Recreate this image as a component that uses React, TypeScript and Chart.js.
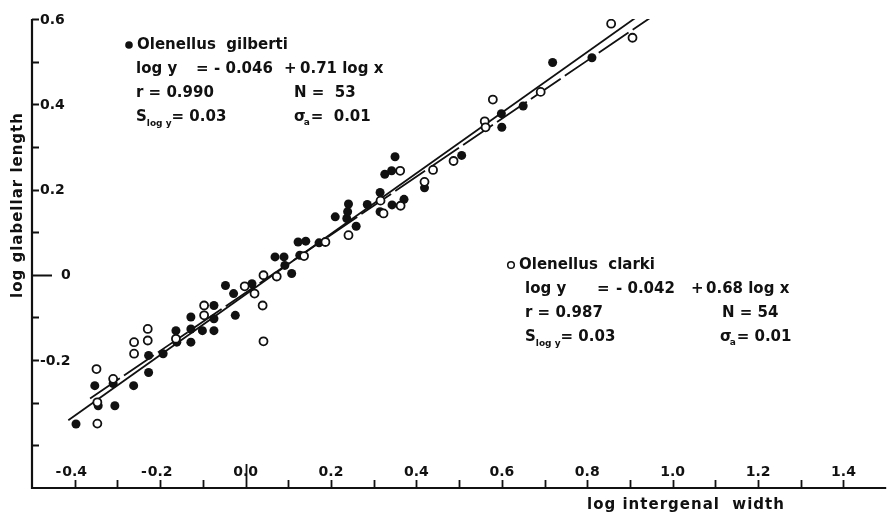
import React, { useEffect, useRef } from "react";
import { Chart, registerables } from "chart.js";

Chart.register(...registerables);

// ---- data ----
const gilbertiX = [
  -0.397, -0.353, -0.31, -0.345, -0.306, -0.262, -0.227, -0.227, -0.193, -0.163,
  -0.161, -0.128, -0.128, -0.128, -0.101, -0.074, -0.074, -0.074, -0.047, -0.028,
  -0.024, 0.015, 0.069, 0.09, 0.092, 0.108, 0.123, 0.141, 0.127, 0.172,
  0.21, 0.237, 0.239, 0.241, 0.259, 0.285, 0.315, 0.326, 0.35, 0.342,
  0.315, 0.343, 0.371, 0.419, 0.506, 0.599, 0.6, 0.65, 0.719, 0.811,
];
const gilbertiY = [
  -0.35, -0.26, -0.255, -0.307, -0.307, -0.26, -0.229, -0.189, -0.185, -0.131,
  -0.158, -0.127, -0.158, -0.099, -0.131, -0.131, -0.103, -0.072, -0.025, -0.044,
  -0.095, -0.021, 0.042, 0.042, 0.022, 0.003, 0.077, 0.079, 0.046, 0.075,
  0.136, 0.132, 0.148, 0.166, 0.114, 0.165, 0.193, 0.236, 0.277, 0.244,
  0.148, 0.164, 0.177, 0.204, 0.28, 0.378, 0.346, 0.396, 0.498, 0.509,
];
const clarkiX = [
  -0.349, -0.347, -0.347, -0.31, -0.261, -0.261, -0.229, -0.229, -0.163, -0.097,
  -0.097, -0.002, 0.021, 0.042, 0.04, 0.042, 0.073, 0.137, 0.187, 0.241,
  0.316, 0.323, 0.363, 0.362, 0.419, 0.439, 0.487, 0.56, 0.562, 0.579,
  0.691, 0.856, 0.906,
];
const clarkiY = [
  -0.221, -0.299, -0.349, -0.244, -0.158, -0.185, -0.127, -0.154, -0.15, -0.072,
  -0.095, -0.027, -0.044, -0.001, -0.072, -0.156, -0.004, 0.044, 0.077, 0.093,
  0.174, 0.144, 0.162, 0.244, 0.218, 0.246, 0.267, 0.36, 0.346, 0.411,
  0.429, 0.589, 0.556,
];
// regression lines, end points as drawn
const gilbertiFitX = [-0.415, 0.926];
const gilbertiFitY = [-0.341, 0.612];
const clarkiFitX = [-0.364, 0.967];
const clarkiFitY = [-0.29, 0.616];

// ---- axes ----
const xRange = [-0.5, 1.5];
const yRange = [-0.5, 0.6];
const xMajorTicks = [-0.4, -0.2, 0, 0.2, 0.4, 0.6, 0.8, 1.0, 1.2, 1.4];
const xMajorLabels = ["-0.4", "-0.2", "0.0", "0.2", "0.4", "0.6", "0.8", "1.0", "1.2", "1.4"];
const xMinorTicks = [-0.3, -0.1, 0.1, 0.3, 0.5, 0.7, 0.9, 1.1, 1.3];
const yMajorTicks = [0.6, 0.4, 0.2, 0, -0.2];
const yMajorLabels = ["0.6", "0.4", "0.2", "0", "-0.2"];
const yMinorTicks = [0.5, 0.3, 0.1, -0.1, -0.3, -0.4];
const xTitle = "log intergenal  width";
const yTitle = "log glabellar length";

// ---- annotation texts ----
const gilbertiName = "Olenellus  gilberti";
const gilbertiEq = ["log y", "=", "- 0.046", "+", "0.71 log x"];
const gilbertiStats = ["r = 0.990", "N =  53"];
const gilbertiErr = ["= 0.03", "=  0.01"];
const clarkiName = "Olenellus  clarki";
const clarkiEq = ["log y", "=", "- 0.042", "+", "0.68 log x"];
const clarkiStats = ["r = 0.987", "N = 54"];
const clarkiErr = ["= 0.03", "= 0.01"];

const FONT_FAMILY = '"DejaVu Sans", "Liberation Sans", sans-serif';
const INK = "#111";

function font(size: number) {
  return `bold ${size}px ${FONT_FAMILY}`;
}

function drawStatsLine(ctx: CanvasRenderingContext2D, x1: number, x2: number, y: number, err: string[]) {
  ctx.font = font(15);
  ctx.fillText("S", x1, y);
  let w = ctx.measureText("S").width;
  ctx.font = font(9);
  ctx.fillText("log y", x1 + w, y + 7);
  const ws = ctx.measureText("log y").width;
  ctx.font = font(15);
  ctx.fillText(err[0], x1 + w + ws, y);
  ctx.fillText("σ", x2, y);
  w = ctx.measureText("σ").width;
  ctx.font = font(9);
  ctx.fillText("a", x2 + w - 2, y + 6);
  ctx.font = font(15);
  ctx.fillText(err[1], x2 + w + 5, y);
}

const annotPlugin = {
  id: "annot",
  beforeDatasetsDraw(chart: any) {
    const { ctx, scales } = chart;
    const xs = scales.x;
    const ys = scales.y;
    const ax = xs.getPixelForValue(xRange[0]);
    const ay = ys.getPixelForValue(yRange[0]);
    const top = ys.getPixelForValue(yRange[1]);
    const right = xs.getPixelForValue(xRange[1]);
    ctx.save();
    ctx.strokeStyle = INK;
    ctx.fillStyle = INK;
    ctx.lineWidth = 2.2;
    ctx.beginPath();
    ctx.moveTo(ax, top);
    ctx.lineTo(ax, ay);
    ctx.lineTo(right, ay);
    ctx.stroke();
    ctx.lineWidth = 1.8;
    // y ticks
    ctx.beginPath();
    for (const v of [...yMajorTicks, ...yMinorTicks]) {
      const py = Math.round(ys.getPixelForValue(v)) + 0.5;
      const len = v === 0 ? 20 : 7;
      ctx.moveTo(ax, py);
      ctx.lineTo(ax + len, py);
    }
    // x ticks
    for (const v of [...xMajorTicks, ...xMinorTicks]) {
      const px = Math.round(xs.getPixelForValue(v)) + 0.5;
      const len = v === 0 ? 24 : 8;
      ctx.moveTo(px, ay);
      ctx.lineTo(px, ay - len);
    }
    ctx.stroke();
    // y labels
    ctx.font = font(14);
    ctx.textBaseline = "middle";
    ctx.textAlign = "left";
    yMajorTicks.forEach((v, i) => {
      const py = ys.getPixelForValue(v);
      const lx = v === 0 ? ax + 29 : ax + 8;
      ctx.fillText(yMajorLabels[i], lx, py + 1);
    });
    // x labels: numeric part centred on the tick, minus sign hanging left
    xMajorTicks.forEach((v, i) => {
      const px = xs.getPixelForValue(v);
      const lab = xMajorLabels[i];
      const neg = lab.startsWith("-");
      const body = neg ? lab.slice(1) : lab;
      const w = ctx.measureText(body).width;
      ctx.textAlign = "left";
      ctx.fillText(body, px - w / 2, ay - 16);
      if (neg) {
        ctx.textAlign = "right";
        ctx.fillText("-", px - w / 2 - 1, ay - 16);
      }
    });
    // axis titles
    ctx.font = font(15);
    (ctx as any).letterSpacing = "1px";
    ctx.textAlign = "center";
    ctx.fillText(xTitle, 686, ay + 17);
    ctx.save();
    ctx.translate(18, 205);
    ctx.rotate(-Math.PI / 2);
    ctx.fillText(yTitle, 0, 0);
    ctx.restore();
    (ctx as any).letterSpacing = "0px";
    ctx.restore();
  },
  afterDatasetsDraw(chart: any) {
    const { ctx } = chart;
    ctx.save();
    ctx.fillStyle = INK;
    ctx.strokeStyle = INK;
    ctx.textBaseline = "middle";
    ctx.textAlign = "left";
    ctx.font = font(15);
    // block 1: Olenellus gilberti
    ctx.beginPath();
    ctx.arc(129, 45, 3.8, 0, Math.PI * 2);
    ctx.fill();
    ctx.fillText(gilbertiName, 137, 45);
    const eq1X = [136, 196, 214, 284, 300];
    gilbertiEq.forEach((t, i) => ctx.fillText(t, eq1X[i], 69));
    ctx.fillText(gilbertiStats[0], 136, 93);
    ctx.fillText(gilbertiStats[1], 294, 93);
    drawStatsLine(ctx, 136, 294, 117, gilbertiErr);
    // block 2: Olenellus clarki
    ctx.lineWidth = 1.5;
    ctx.beginPath();
    ctx.arc(511, 265, 3.3, 0, Math.PI * 2);
    ctx.stroke();
    ctx.fillText(clarkiName, 519, 265);
    const eq2X = [525, 597, 616, 691, 706];
    clarkiEq.forEach((t, i) => ctx.fillText(t, eq2X[i], 289));
    ctx.fillText(clarkiStats[0], 525, 313);
    ctx.fillText(clarkiStats[1], 722, 313);
    drawStatsLine(ctx, 525, 720, 337, clarkiErr);
    ctx.restore();
  },
};

const zip = (xs: number[], ys: number[]) => xs.map((x, i) => ({ x, y: ys[i] }));

export default function App() {
  const ref = useRef<HTMLCanvasElement>(null);
  useEffect(() => {
    if (!ref.current) return;
    const chart = new Chart(ref.current, {
      type: "scatter",
      data: {
        datasets: [
          {
            label: "Olenellus clarki",
            data: zip(clarkiX, clarkiY),
            pointStyle: "circle",
            pointRadius: 4,
            pointBackgroundColor: "#fff",
            pointBorderColor: INK,
            pointBorderWidth: 1.8,
            order: 1,
          },
          {
            label: "Olenellus gilberti",
            data: zip(gilbertiX, gilbertiY),
            pointStyle: "circle",
            pointRadius: 4.5,
            pointBackgroundColor: INK,
            pointBorderColor: INK,
            pointBorderWidth: 0,
            order: 2,
          },
          {
            type: "line",
            label: "gilberti fit",
            data: zip(gilbertiFitX, gilbertiFitY),
            borderColor: INK,
            borderWidth: 1.8,
            pointRadius: 0,
            fill: false,
            order: 3,
          },
          {
            type: "line",
            label: "clarki fit",
            data: zip(clarkiFitX, clarkiFitY),
            borderColor: INK,
            borderWidth: 1.8,
            borderDash: [36, 5],
            pointRadius: 0,
            fill: false,
            order: 4,
          },
        ],
      },
      options: {
        animation: false,
        responsive: false,
        devicePixelRatio: 1,
        layout: { padding: { left: 32, right: 0, top: 19, bottom: 29 } },
        plugins: { legend: { display: false }, tooltip: { enabled: false } },
        events: [],
        scales: {
          x: { type: "linear", min: xRange[0], max: xRange[1], display: false },
          y: { type: "linear", min: yRange[0], max: yRange[1], display: false },
        },
      },
      plugins: [annotPlugin],
    } as any);
    return () => chart.destroy();
  }, []);
  return (
    <div style={{ position: "fixed", left: 0, top: 0, width: 892, height: 517, background: "#fff" }}>
      <canvas ref={ref} width={892} height={517} style={{ display: "block" }} />
    </div>
  );
}
